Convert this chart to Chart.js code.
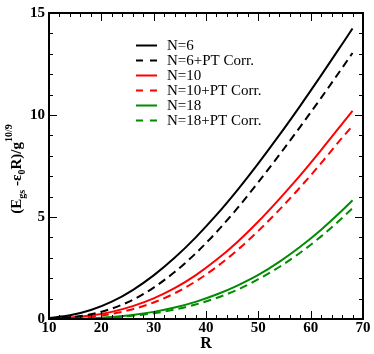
<html>
<head>
<script src="https://cdn.jsdelivr.net/npm/chart.js@4.4.0/dist/chart.umd.min.js"></script>
<style>
  body { margin: 0; background: #fff; }
  #wrap { width: 374px; height: 354px; }
</style>
</head>
<body>
<div id="wrap"><canvas id="canvas"></canvas></div>
<script>
var R = [10, 14, 18, 22, 26, 30, 34, 38, 42, 46, 50, 54, 58, 62, 66, 68];

var n6     = [0.05, 0.18, 0.44, 0.85, 1.42, 2.14, 3.0, 3.99, 5.1, 6.32, 7.63, 9.01, 10.45, 11.94, 13.47, 14.24];
var n6pt   = [0.02, 0.08, 0.23, 0.51, 0.94, 1.54, 2.3, 3.21, 4.26, 5.43, 6.71, 8.04, 9.42, 10.84, 12.3, 13.04];
var n10    = [0.02, 0.07, 0.17, 0.35, 0.63, 1.01, 1.51, 2.14, 2.9, 3.78, 4.78, 5.88, 7.04, 8.28, 9.56, 10.2];
var n10pt  = [0.01, 0.04, 0.11, 0.25, 0.48, 0.81, 1.26, 1.84, 2.55, 3.38, 4.32, 5.35, 6.46, 7.64, 8.88, 9.46];
var n18    = [0.0, 0.01, 0.04, 0.1, 0.2, 0.35, 0.56, 0.84, 1.2, 1.64, 2.16, 2.8, 3.54, 4.38, 5.32, 5.82];
var n18pt  = [0.0, 0.01, 0.03, 0.08, 0.16, 0.28, 0.46, 0.71, 1.03, 1.43, 1.95, 2.55, 3.25, 4.05, 4.95, 5.43];

var seriesNames = ['N=6', 'N=6+PT Corr.', 'N=10', 'N=10+PT Corr.', 'N=18', 'N=18+PT Corr.'];

var xTicks = [10, 20, 30, 40, 50, 60, 70];
var yTicks = [0, 5, 10, 15];

var serif = '"Liberation Serif", "Times New Roman", serif';
var green = 'rgb(0,139,0)';

function pts(vals) {
  return vals.map(function (v, i) { return { x: R[i], y: v }; });
}

function ds(label, vals, color, dashed) {
  return {
    label: label,
    data: pts(vals),
    borderColor: color,
    backgroundColor: color,
    borderWidth: 2,
    borderDash: dashed ? [8, 5] : [],
    pointRadius: 0,
    fill: false,
    cubicInterpolationMode: 'monotone'
  };
}

// inward ticks on all four sides + box
var framePlugin = {
  id: 'frame',
  afterDraw: function (chart) {
    var c = chart.ctx, a = chart.chartArea, x = chart.scales.x, y = chart.scales.y;
    c.save();
    c.strokeStyle = '#000';
    c.lineWidth = 1;
    c.beginPath();
    for (var v = 12; v < 70; v += 2) {
      var px = Math.round(x.getPixelForValue(v)) + 0.5;
      var len = (v % 10 === 0) ? 8 : 4;
      c.moveTo(px, a.bottom); c.lineTo(px, a.bottom - len);
      c.moveTo(px, a.top); c.lineTo(px, a.top + len);
    }
    for (var w = 1; w < 15; w++) {
      var py = Math.round(y.getPixelForValue(w)) + 0.5;
      var l2 = (w % 5 === 0) ? 8 : 4;
      c.moveTo(a.left, py); c.lineTo(a.left + l2, py);
      c.moveTo(a.right, py); c.lineTo(a.right - l2, py);
    }
    c.stroke();
    c.lineWidth = 2;
    c.strokeRect(a.left, a.top, a.right - a.left, a.bottom - a.top);
    c.restore();
  }
};

// legend inside the plot, drawn from the datasets
var legendPlugin = {
  id: 'inLegend',
  afterDraw: function (chart) {
    var c = chart.ctx;
    c.save();
    c.font = '15px ' + serif;
    c.textBaseline = 'middle';
    c.fillStyle = '#000';
    chart.data.datasets.forEach(function (d, i) {
      var yy = 45.5 + i * 15;
      c.strokeStyle = d.borderColor;
      c.lineWidth = 2;
      c.setLineDash(d.borderDash.length ? [7, 7] : []);
      c.beginPath();
      c.moveTo(136, yy); c.lineTo(157, yy);
      c.stroke();
      c.fillText(d.label, 167, yy + 1);
    });
    c.restore();
  }
};

// y axis title with sub/superscripts
var yTitlePlugin = {
  id: 'yTitle',
  afterDraw: function (chart) {
    var c = chart.ctx;
    var big = 'bold 15px ' + serif, small = 'bold 10px ' + serif;
    var parts = [
      ['(E', big, 0], ['gs', small, 4], [' -\u03b5', big, 0], ['0', small, 4],
      ['R)/g', big, 0], ['10/9', small, -9]
    ];
    c.save();
    c.fillStyle = '#000';
    c.textBaseline = 'alphabetic';
    var total = 0;
    parts.forEach(function (p) { c.font = p[1]; total += c.measureText(p[0]).width; });
    c.translate(21, 169);
    c.rotate(-Math.PI / 2);
    var xx = -total / 2;
    parts.forEach(function (p) {
      c.font = p[1];
      c.fillText(p[0], xx, p[2]);
      xx += c.measureText(p[0]).width;
    });
    c.restore();
  }
};

var ctx = document.getElementById('canvas').getContext('2d');
var chart = new Chart(ctx, {
  type: 'line',
  data: {
    datasets: [
      ds(seriesNames[0], n6, '#000', false),
      ds(seriesNames[1], n6pt, '#000', true),
      ds(seriesNames[2], n10, '#ff0000', false),
      ds(seriesNames[3], n10pt, '#ff0000', true),
      ds(seriesNames[4], n18, green, false),
      ds(seriesNames[5], n18pt, green, true)
    ]
  },
  options: {
    responsive: true,
    maintainAspectRatio: false,
    animation: false,
    layout: { padding: { top: 7, right: 11, left: 0, bottom: 0 } },
    plugins: { legend: { display: false }, tooltip: { enabled: false } },
    scales: {
      x: {
        type: 'linear',
        min: 10, max: 70,
        afterFit: function (s) { s.height = 35; },
        afterBuildTicks: function (s) { s.ticks = xTicks.map(function (v) { return { value: v }; }); },
        grid: { display: false, drawTicks: false },
        border: { display: false },
        ticks: { color: '#000', padding: 2, font: { family: serif, size: 15, weight: 'bold', lineHeight: 1 } },
        title: { display: true, text: 'R', color: '#000', padding: { top: 0, bottom: 1 }, font: { family: serif, size: 16, weight: 'bold' } }
      },
      y: {
        type: 'linear',
        min: 0, max: 15,
        afterFit: function (s) { s.width = 49; },
        afterBuildTicks: function (s) { s.ticks = yTicks.map(function (v) { return { value: v }; }); },
        grid: { display: false, drawTicks: false },
        border: { display: false },
        ticks: { color: '#000', padding: 4, font: { family: serif, size: 15, weight: 'bold' } }
      }
    }
  },
  plugins: [framePlugin, legendPlugin, yTitlePlugin]
});
</script>
</body>
</html>
